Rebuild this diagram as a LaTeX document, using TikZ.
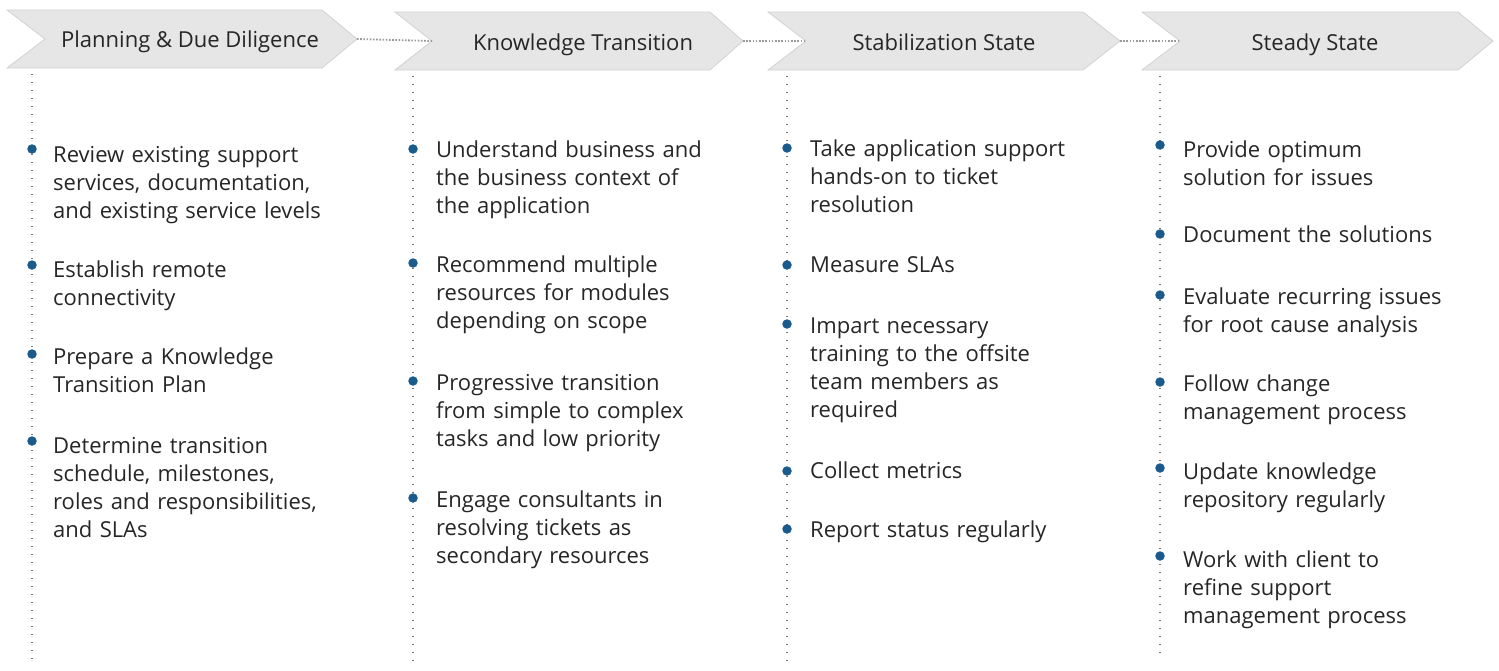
\documentclass[tikz,border=0pt]{standalone}
\usepackage{fontspec}
\setmainfont{Open Sans}
\definecolor{chevfill}{HTML}{E6E6E6}
\definecolor{chevedge}{HTML}{D2D2D2}
\definecolor{txt}{HTML}{262626}
\definecolor{bul}{HTML}{1B5B8C}
\definecolor{dotc}{HTML}{7A7A7A}
\definecolor{linkc}{HTML}{9A9A9A}
\begin{document}
\begin{tikzpicture}[x=1pt,y=-1pt,
  chev/.style={fill=chevfill,draw=chevedge,line width=0.8pt},
  head/.style={anchor=base,inner sep=0,font=\fontsize{22}{26}\selectfont,text=txt},
  item/.style={anchor=base west,inner sep=0,text width=330pt,align=left,font=\fontsize{22}{28.3}\selectfont,text=txt},
  bulletdot/.style={circle,fill=bul,inner sep=0,minimum size=9.5pt},
  link/.style={draw=linkc,line width=1.8pt,dash pattern=on 1.6pt off 1.6pt},
  vline/.style={draw=dotc,line width=1.3pt,dash pattern=on 1.3pt off 6.7pt}]
\useasboundingbox (0,0) rectangle (1499,670);

% chevrons
\path[chev] (7,10) -- (322,10) -- (357,39) -- (322,68) -- (7,68) -- (45,39) -- cycle;
\path[chev] (395,12) -- (710,12) -- (743,41) -- (710,70) -- (395,70) -- (432,41) -- cycle;
\path[chev] (768,12) -- (1083,12) -- (1120,41) -- (1083,70) -- (768,70) -- (806,41) -- cycle;
\path[chev] (1142,12) -- (1458,12) -- (1493,41) -- (1458,70) -- (1142,70) -- (1180,41) -- cycle;
\coordinate (tip1) at (357,39);
\coordinate (notch2) at (432,41);
\coordinate (tip2) at (743,41);
\coordinate (notch3) at (806,41);
\coordinate (tip3) at (1120,41);
\coordinate (notch4) at (1180,41);

\node[head] (h1) at (190,47) {Planning \& Due Diligence};
\node[head] (h2) at (583,50) {Knowledge Transition};
\node[head] (h3) at (944,50) {Stabilization State};
\node[head] (h4) at (1315,50) {Steady State};

\draw[link] (tip1) -- (notch2);
\draw[link] (tip2) -- (notch3);
\draw[link] (tip3) -- (notch4);

% vertical dotted guides
\coordinate (v1a) at (32,74);   \coordinate (v1b) at (32,664);
\coordinate (v2a) at (413,76);  \coordinate (v2b) at (413,664);
\coordinate (v3a) at (787,76);  \coordinate (v3b) at (787,664);
\coordinate (v4a) at (1160,76); \coordinate (v4b) at (1160,658);
\draw[vline] (v1a) -- (v1b);
\draw[vline] (v2a) -- (v2b);
\draw[vline] (v3a) -- (v3b);
\draw[vline] (v4a) -- (v4b);

% column 1
\node[bulletdot] (b11) at (32,149) {};
\node[item] (t11) at (53,162) {Review existing support\\services, documentation,\\and existing service levels};
\node[bulletdot] (b12) at (32,265) {};
\node[item] (t12) at (53,277) {Establish remote\\connectivity};
\node[bulletdot] (b13) at (32,354) {};
\node[item] (t13) at (53,364) {Prepare a Knowledge\\Transition Plan};
\node[bulletdot] (b14) at (32,441) {};
\node[item] (t14) at (53,453) {Determine transition\\schedule, milestones,\\roles and responsibilities,\\and SLAs};

% column 2
\node[bulletdot] (b21) at (413,149) {};
\node[item] (t21) at (436,157) {Understand business and\\the business context of\\the application};
\node[bulletdot] (b22) at (413,263) {};
\node[item] (t22) at (436,272) {Recommend multiple\\resources for modules\\depending on scope};
\node[bulletdot] (b23) at (413,381) {};
\node[item] (t23) at (436,390) {Progressive transition\\from simple to complex\\tasks and low priority};
\node[bulletdot] (b24) at (413,498) {};
\node[item] (t24) at (436,507) {Engage consultants in\\resolving tickets as\\secondary resources};

% column 3
\node[bulletdot] (b31) at (787,148) {};
\node[item] (t31) at (810,156) {Take application support\\hands-on to ticket\\resolution};
\node[bulletdot] (b32) at (787,265) {};
\node[item] (t32) at (810,272) {Measure SLAs};
\node[bulletdot] (b33) at (787,324) {};
\node[item] (t33) at (810,333) {Impart necessary\\training to the offsite\\team members as\\required};
\node[bulletdot] (b34) at (787,471) {};
\node[item] (t34) at (810,478) {Collect metrics};
\node[bulletdot] (b35) at (787,529) {};
\node[item] (t35) at (810,537) {Report status regularly};

% column 4
\node[bulletdot] (b41) at (1160,145) {};
\node[item] (t41) at (1183,157) {Provide optimum\\solution for issues};
\node[bulletdot] (b42) at (1160,234) {};
\node[item] (t42) at (1183,242) {Document the solutions};
\node[bulletdot] (b43) at (1160,295) {};
\node[item] (t43) at (1183,304) {Evaluate recurring issues\\for root cause analysis};
\node[bulletdot] (b44) at (1160,382) {};
\node[item] (t44) at (1183,391) {Follow change\\management process};
\node[bulletdot] (b45) at (1160,468) {};
\node[item] (t45) at (1183,479) {Update knowledge\\repository regularly};
\node[bulletdot] (b46) at (1160,556) {};
\node[item] (t46) at (1183,567) {Work with client to\\refine support\\management process};
\end{tikzpicture}
\end{document}
